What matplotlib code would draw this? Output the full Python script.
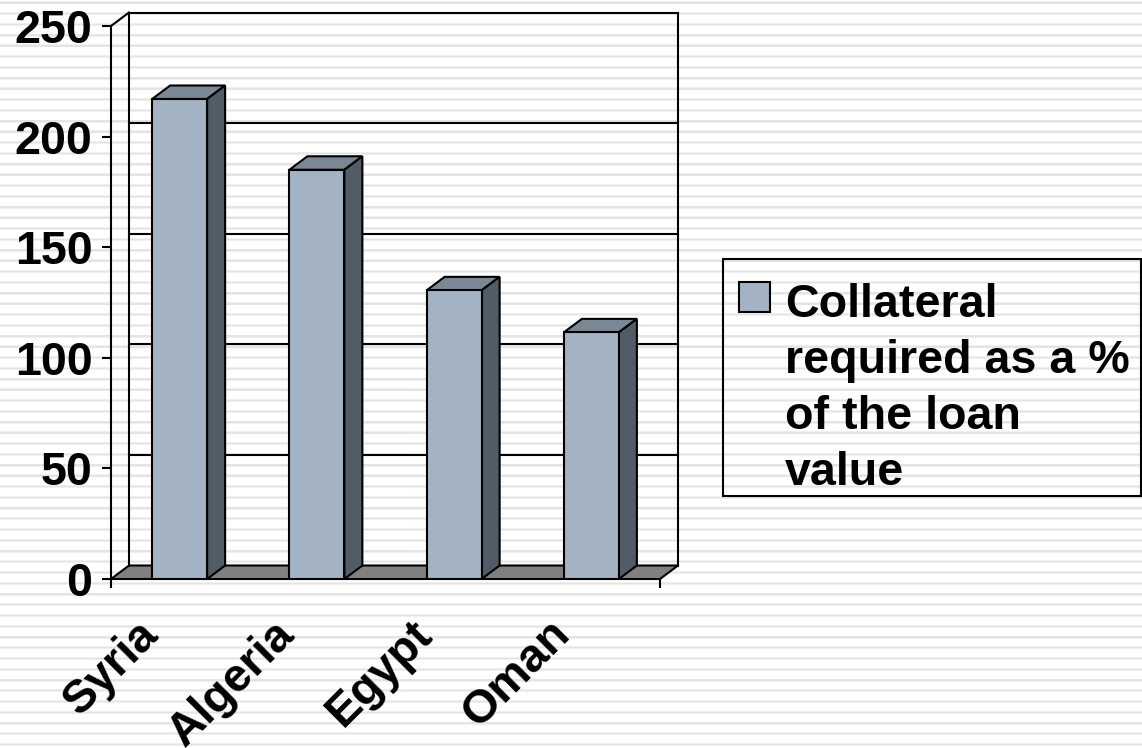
import numpy as np
import matplotlib
matplotlib.use("Agg")
import matplotlib.pyplot as plt
from matplotlib.patches import Polygon, Rectangle

categories = ["Syria", "Algeria", "Egypt", "Oman"]
collateral = [217, 185, 130.5, 111.5]
y_ticks = [0, 50, 100, 150, 200, 250]
legend_lines = ["Collateral", "required as a %", "of the loan", "value"]

W, H = 1142, 748
FRONT = "#A3B3C4"
TOP = "#7A8794"
SIDE = "#525C66"
FLOOR = "#808080"
LW = 1.5
FS = 33.6

plt.rcParams["font.family"] = ["Liberation Sans", "DejaVu Sans"]
plt.rcParams["font.weight"] = "bold"

fig = plt.figure(figsize=(W / 100, H / 100), dpi=100, facecolor="white")


def fx(x):
    return x / W


def fy(y):
    return 1 - y / H


# striped slide background
bg = fig.add_axes([0, 0, 1, 1], zorder=0)
bg.set_xlim(0, W)
bg.set_ylim(H, 0)
bg.axis("off")
for y in np.arange(2.8, H + 5, 10.75):
    bg.add_patch(Rectangle((0, y - 1.5), W, 3.0, fc="#F0F0F0", ec="none"))
    bg.add_patch(Rectangle((0, y - 0.7), W, 1.4, fc="#E4E4E4", ec="none"))

ax = fig.add_axes([fx(111), fy(579), (660 - 111) / W, (579 - 26) / H], zorder=1)
ax.patch.set_alpha(0)
ax.set_xlim(0, len(categories))
ax.set_ylim(0, 250)
for s in ("top", "right", "bottom"):
    ax.spines[s].set_visible(False)
ax.spines["left"].set_linewidth(LW)

px_x = len(categories) / (660 - 111)
px_y = 250 / (579 - 26)
dx, dy = 18 * px_x, 13.5 * px_y
kw = dict(clip_on=False, lw=LW, ec="black", joinstyle="miter")
n = len(categories)

# floor
ax.add_patch(Polygon([(0, 0), (n, 0), (n + dx, dy), (dx, dy)], fc=FLOOR, zorder=1, **kw))
# back wall + gridlines
ytop = 250 + dy
line_kw = dict(color="black", lw=LW, clip_on=False, zorder=1)
ax.plot([dx, dx], [dy, ytop], **line_kw)
ax.plot([n + dx, n + dx], [dy, ytop], **line_kw)
for v in y_ticks[1:]:
    ax.plot([dx, n + dx], [v + dy, v + dy], **line_kw)
ax.plot([0, dx], [250, ytop], **line_kw)

# 3-D bars
bw = 55 * px_x
centers = np.arange(n) + 0.5
ax.bar(centers, collateral, width=bw, color=FRONT, edgecolor="black", linewidth=LW, zorder=3)
for c, v in zip(centers, collateral):
    l, r = c - bw / 2, c + bw / 2
    ax.add_patch(Polygon([(l, v), (r, v), (r + dx, v + dy), (l + dx, v + dy)], fc=TOP, zorder=2, **kw))
    ax.add_patch(Polygon([(r, 0), (r + dx, dy), (r + dx, v + dy), (r, v)], fc=SIDE, zorder=2, **kw))

ax.set_yticks(y_ticks)
ax.tick_params(axis="y", length=6.5, width=LW, labelsize=FS, pad=7)
ax.set_xticks([0, n])
ax.tick_params(axis="x", length=6.5, width=LW, labelbottom=False)
for c, name in zip(centers, categories):
    ax.annotate(name, (c, 0), xytext=(-44, -33), textcoords="offset pixels", fontsize=FS,
                rotation=45, ha="right", va="top", rotation_mode="anchor",
                annotation_clip=False)

# legend box
lg = fig.add_axes([0, 0, 1, 1], zorder=2)
lg.set_xlim(0, W)
lg.set_ylim(H, 0)
lg.axis("off")
lg.add_patch(Rectangle((723, 259), 418, 237, fc="none", ec="black", lw=LW))
lg.add_patch(Rectangle((739, 282), 31, 30, fc=FRONT, ec="black", lw=LW))
for i, line in enumerate(legend_lines):
    lg.text(785, 300 + i * 56, line, fontsize=FS, va="center_baseline", ha="left")

fig.savefig("out.png", dpi=100)
